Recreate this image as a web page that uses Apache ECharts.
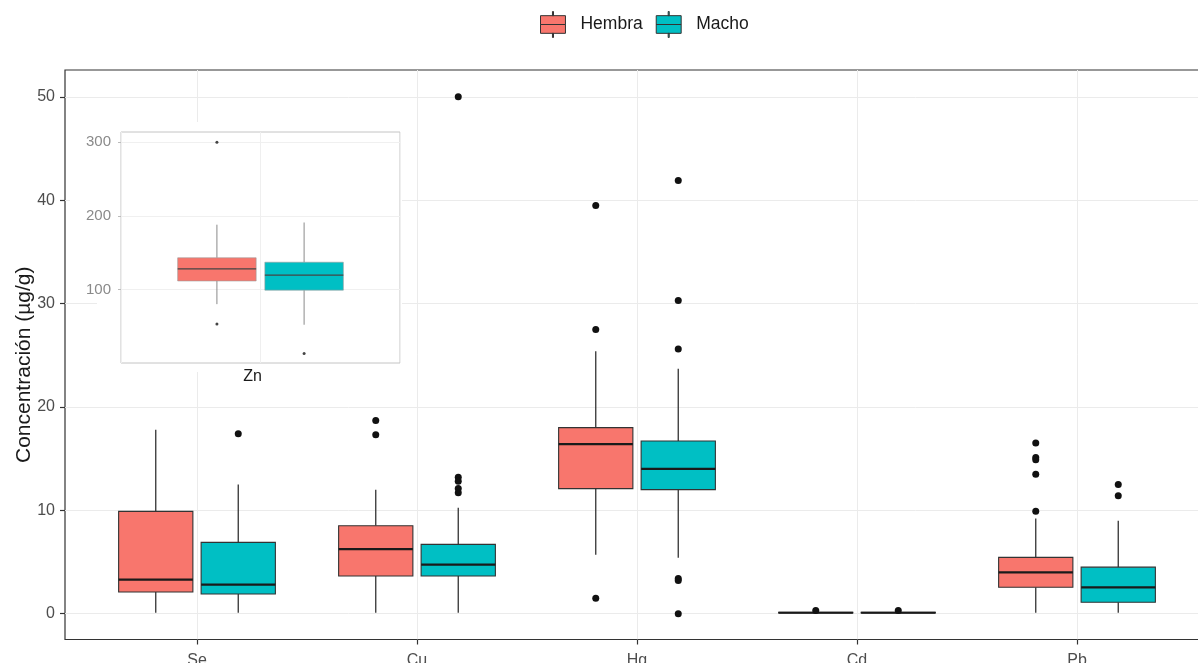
<!DOCTYPE html>
<html><head><meta charset="utf-8">
<script src="https://cdn.jsdelivr.net/npm/echarts@6/dist/echarts.min.js"></script>
<style>html,body{margin:0;padding:0;background:#fff}#c{width:1198px;height:663px}</style>
</head><body><div id="c"></div><script>
// ---------- data ----------
const CATEGORIES = ['Se', 'Cu', 'Hg', 'Cd', 'Pb'];
const SERIES_NAMES = ['Hembra', 'Macho'];
// [lower whisker, Q1, median, Q3, upper whisker]
const HEMBRA_BOX = [
  [0.1, 2.1, 3.3, 9.9, 17.8],
  [0.1, 3.65, 6.25, 8.5, 12.0],
  [5.7, 12.1, 16.4, 18.0, 25.4],
  [0.02, 0.06, 0.09, 0.13, 0.2],
  [0.1, 2.55, 4.0, 5.45, 9.2]
];
const MACHO_BOX = [
  [0.1, 1.9, 2.8, 6.9, 12.5],
  [0.1, 3.65, 4.75, 6.7, 10.25],
  [5.4, 12.0, 14.0, 16.7, 23.7],
  [0.02, 0.06, 0.09, 0.13, 0.2],
  [0.1, 1.1, 2.55, 4.5, 9.0]
];
const HEMBRA_OUTLIERS = [
  [],
  [18.7, 17.3],
  [39.5, 27.5, 1.5],
  [0.3],
  [16.5, 15.1, 14.9, 13.5, 9.9]
];
const MACHO_OUTLIERS = [
  [17.4],
  [50.0, 13.2, 12.8, 12.1, 11.7],
  [41.9, 30.3, 25.6, 3.4, 3.2, 0.0],
  [0.3],
  [12.5, 11.4]
];
const Y_TICKS = [0, 10, 20, 30, 40, 50];
const Y_TITLE = 'Concentración (µg/g)';

// inset (Zn)
const INSET_CATEGORY = ['Zn'];
const ZN_HEMBRA_BOX = [[80, 111.5, 128, 143, 188]];
const ZN_MACHO_BOX = [[52, 99, 119.5, 137, 191]];
const ZN_HEMBRA_OUTLIERS = [[300, 53]];
const ZN_MACHO_OUTLIERS = [[13]];
const INSET_Y_TICKS = [100, 200, 300];

// ---------- layout constants ----------
const DODGE = 0.1875;   // dodge offset (category units)
const BOX_W = 0.3375;   // box width (category units)
const COLORS = ['#F8766D', '#00BFC4'];
const FONT = '"Liberation Sans", Arial, sans-serif';

function boxData(stats) { return stats.map((s, i) => [i, ...s]); }
function outlierData(lists) {
  const out = [];
  lists.forEach((vals, i) => vals.forEach(v => out.push([i, v])));
  return out;
}
function makeRenderer(o) {
  return function (params, api) {
    const i = api.value(0);
    const pLo = api.coord([i, api.value(1)]);
    const pQ1 = api.coord([i, api.value(2)]);
    const pMed = api.coord([i, api.value(3)]);
    const pQ3 = api.coord([i, api.value(4)]);
    const pHi = api.coord([i, api.value(5)]);
    const w = api.size([BOX_W, 0])[0];
    const x = pMed[0];
    return {
      type: 'group',
      children: [
        { type: 'line', shape: { x1: x, y1: pHi[1], x2: x, y2: pQ3[1] }, style: { stroke: o.whisker, lineWidth: o.whiskerW } },
        { type: 'line', shape: { x1: x, y1: pQ1[1], x2: x, y2: pLo[1] }, style: { stroke: o.whisker, lineWidth: o.whiskerW } },
        { type: 'rect', shape: { x: x - w / 2, y: pQ3[1], width: w, height: Math.max(pQ1[1] - pQ3[1], 0.5) },
          style: { fill: api.visual('color'), stroke: o.border, lineWidth: o.borderW } },
        { type: 'line', shape: { x1: x - w / 2, y1: pMed[1], x2: x + w / 2, y2: pMed[1] }, style: { stroke: o.median, lineWidth: o.medianW } }
      ]
    };
  };
}
const mainRender = makeRenderer({ whisker: '#333', whiskerW: 1.3, border: '#333', borderW: 1.1, median: '#1a1a1a', medianW: 2.2 });
const insetRender = makeRenderer({ whisker: '#8a8a8a', whiskerW: 1, border: '#999', borderW: 0.6, median: '#444', medianW: 1.2 });

const LEGEND_ICON = 'path://M11.5,0h1v4h-1z M0,4h24v8.5h-24z M0,12.5h24v8.5h-24z M11.5,21h1v4h-1z';

const chart = echarts.init(document.getElementById('c'), null, { renderer: 'canvas' });
const option = {
  animation: false,
  backgroundColor: '#fff',
  textStyle: { fontFamily: FONT },
  legend: {
    data: SERIES_NAMES.map(n => ({ name: n, icon: LEGEND_ICON })),
    left: 540, top: 11, padding: 0,
    itemWidth: 25, itemHeight: 26, itemGap: 13,
    itemStyle: { borderColor: '#333', borderWidth: 1 },
    textStyle: { fontSize: 17.5, color: '#1a1a1a', fontFamily: FONT, padding: [0, 0, 0, 10] }
  },
  grid: [
    { left: 65, top: 70, width: 1144, height: 569.5, show: true, borderColor: '#333', borderWidth: 1.2,
      backgroundColor: '#fff', containLabel: false, outerBoundsMode: 'none' },
    { left: 121, top: 132, width: 279, height: 231, show: true, borderColor: '#c4c4c4', borderWidth: 1,
      backgroundColor: '#fff', z: 3, containLabel: false, outerBoundsMode: 'none' }
  ],
  graphic: [
    { type: 'rect', z: 1, shape: { x: 97, y: 122, width: 305, height: 250 }, style: { fill: '#fff' } },
    { type: 'rect', z: 1, shape: { x: 70, y: 122, width: 30, height: 108 }, style: { fill: '#fff' } }
  ],
  xAxis: [
    { gridIndex: 0, type: 'value', min: -0.6, max: CATEGORIES.length - 0.4, minInterval: 1, maxInterval: 1,
      axisLine: { show: false, onZero: false },
      axisTick: { show: true, length: 5, lineStyle: { color: '#333', width: 1.2 }, customValues: CATEGORIES.map((c, i) => i) },
      axisLabel: { customValues: CATEGORIES.map((c, i) => i), formatter: v => CATEGORIES[Math.round(v)] || '',
        fontSize: 16, color: '#4d4d4d', margin: 13, fontFamily: FONT },
      splitLine: { show: true, lineStyle: { color: '#ebebeb', width: 1 } } },
    { gridIndex: 0, type: 'value', min: -0.6 + DODGE, max: CATEGORIES.length - 0.4 + DODGE, show: false, axisLine: { onZero: false } },
    { gridIndex: 0, type: 'value', min: -0.6 - DODGE, max: CATEGORIES.length - 0.4 - DODGE, show: false, axisLine: { onZero: false } },
    { gridIndex: 1, type: 'value', min: -0.6, max: 0.6, minInterval: 1, maxInterval: 1, z: 3,
      axisLine: { show: false, onZero: false }, axisTick: { show: false },
      axisLabel: { customValues: [0], formatter: v => INSET_CATEGORY[Math.round(v)] || '',
        fontSize: 16, color: '#1a1a1a', margin: 6, padding: [0, 16, 0, 0], fontFamily: FONT },
      splitLine: { show: true, lineStyle: { color: '#efefef', width: 1 } } },
    { gridIndex: 1, type: 'value', min: -0.6 + DODGE, max: 0.6 + DODGE, show: false, axisLine: { onZero: false } },
    { gridIndex: 1, type: 'value', min: -0.6 - DODGE, max: 0.6 - DODGE, show: false, axisLine: { onZero: false } }
  ],
  yAxis: [
    { gridIndex: 0, type: 'value', min: -2.5, max: 52.6, minInterval: 5, maxInterval: 5,
      name: Y_TITLE, nameLocation: 'middle', nameGap: 30, nameMoveOverlap: false,
      nameTextStyle: { fontSize: 21, color: '#1a1a1a', fontFamily: FONT, padding: [0, 20, 0, 0] },
      axisLine: { show: false, onZero: false },
      axisTick: { show: true, length: 5, lineStyle: { color: '#333', width: 1.2 }, customValues: Y_TICKS },
      axisLabel: { customValues: Y_TICKS, fontSize: 16, color: '#4d4d4d', margin: 10, fontFamily: FONT },
      splitLine: { show: true, lineStyle: { color: '#ebebeb', width: 1 } } },
    { gridIndex: 1, type: 'value', min: 0, max: 314, minInterval: 50, maxInterval: 50, z: 3,
      axisLine: { show: false, onZero: false },
      axisTick: { show: true, length: 3, lineStyle: { color: '#bbb' }, customValues: INSET_Y_TICKS },
      axisLabel: { customValues: INSET_Y_TICKS, fontSize: 15, color: '#8a8a8a', margin: 10, fontFamily: FONT },
      splitLine: { show: true, lineStyle: { color: '#f0f0f0', width: 1 } } }
  ],
  series: [
    { name: 'Hembra', type: 'custom', xAxisIndex: 1, yAxisIndex: 0, z: 2, itemStyle: { color: COLORS[0] },
      renderItem: mainRender, encode: { x: 0, y: [1, 2, 3, 4, 5] }, data: boxData(HEMBRA_BOX) },
    { name: 'Macho', type: 'custom', xAxisIndex: 2, yAxisIndex: 0, z: 2, itemStyle: { color: COLORS[1] },
      renderItem: mainRender, encode: { x: 0, y: [1, 2, 3, 4, 5] }, data: boxData(MACHO_BOX) },
    { name: 'Hembra outliers', type: 'scatter', xAxisIndex: 1, yAxisIndex: 0, z: 3, symbolSize: 7,
      itemStyle: { color: '#111', opacity: 1 }, data: outlierData(HEMBRA_OUTLIERS) },
    { name: 'Macho outliers', type: 'scatter', xAxisIndex: 2, yAxisIndex: 0, z: 3, symbolSize: 7,
      itemStyle: { color: '#111', opacity: 1 }, data: outlierData(MACHO_OUTLIERS) },
    { name: 'Zn Hembra', type: 'custom', xAxisIndex: 4, yAxisIndex: 1, z: 4, itemStyle: { color: COLORS[0] },
      renderItem: insetRender, encode: { x: 0, y: [1, 2, 3, 4, 5] }, data: boxData(ZN_HEMBRA_BOX) },
    { name: 'Zn Macho', type: 'custom', xAxisIndex: 5, yAxisIndex: 1, z: 4, itemStyle: { color: COLORS[1] },
      renderItem: insetRender, encode: { x: 0, y: [1, 2, 3, 4, 5] }, data: boxData(ZN_MACHO_BOX) },
    { name: 'Zn Hembra outliers', type: 'scatter', xAxisIndex: 4, yAxisIndex: 1, z: 5, symbolSize: 3,
      itemStyle: { color: '#444', opacity: 1 }, data: outlierData(ZN_HEMBRA_OUTLIERS) },
    { name: 'Zn Macho outliers', type: 'scatter', xAxisIndex: 5, yAxisIndex: 1, z: 5, symbolSize: 3,
      itemStyle: { color: '#444', opacity: 1 }, data: outlierData(ZN_MACHO_OUTLIERS) }
  ]
};
chart.setOption(option);
</script></body></html>
